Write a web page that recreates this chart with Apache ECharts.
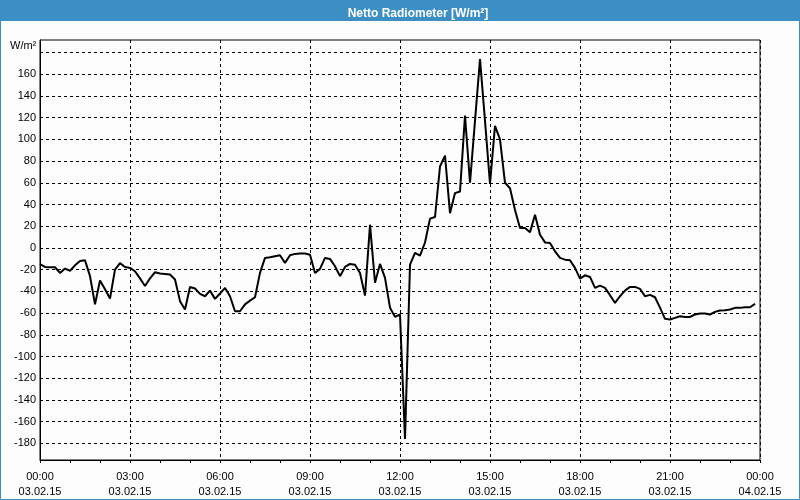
<!DOCTYPE html>
<html>
<head>
<meta charset="utf-8">
<script src="https://cdn.jsdelivr.net/npm/echarts@6/dist/echarts.min.js"></script>
<style>
html,body{margin:0;padding:0;background:#fcfdfc;}
#chart{width:800px;height:500px;}
</style>
</head>
<body>
<div id="chart"></div>
<script>
// ---- data ----
const chartTitle = 'Netto Radiometer [W/m²]';
const unitLabel = 'W/m²';
const stepHours = 1 / 6; // 10-minute samples starting 03.02.15 00:00
const values = [
  -15, -17.5, -17.8, -17.8, -23, -19, -21, -16, -12, -11.4,
  -26, -52, -30, -38, -46.6, -20, -14, -17.5, -18.4, -21.5,
  -28, -35, -28, -22.4, -23.6, -24, -24.5, -29, -49, -56.7,
  -36, -37.4, -42.3, -44.5, -39.3, -46.9, -42, -36.8, -44.5, -58.3,
  -58.3, -52, -48.5, -45.4, -23, -9.2, -8.6, -7.7, -6.8, -13.8,
  -6.8, -5.5, -5.2, -5.2, -6.2, -23, -19.3, -9.2, -10.1, -16.9,
  -26, -17.5, -14.7, -15.4, -23, -43.9, 21.4, -32, -14.7, -27.6,
  -55, -63.5, -61.3, -176, -15.4, -4.5, -7, 5, 27, 28.5,
  75, 85, 32, 50.5, 52, 122, 60, 117, 174, 117,
  59, 112.5, 100, 60, 55, 35, 18.4, 18.4, 14.5, 30.6,
  12.2, 5.1, 4.6, -3.1, -9.2, -10.8, -11.4, -18.4, -28.2, -25.2,
  -26.7, -36.8, -34.7, -36.8, -43.5, -50.6, -44.5, -39.3, -35.9, -35.9,
  -37.7, -44.5, -43.2, -45.4, -55, -65.3, -65.9, -64.4, -62.9, -63.5,
  -63.5, -61.3, -60.4, -60.4, -61.3, -58.9, -57.7, -57.4, -56.7, -55.2,
  -55.2, -54.6, -54.6, -51.5
];
const xTimeLabels = ['00:00','03:00','06:00','09:00','12:00','15:00','18:00','21:00','00:00'];
const xDateLabels = ['03.02.15','03.02.15','03.02.15','03.02.15','03.02.15','03.02.15','03.02.15','03.02.15','04.02.15'];
const yGridValues = [-180,-160,-140,-120,-100,-80,-60,-40,-20,0,20,40,60,80,100,120,140,160,180];
const yLabelValues = [-180,-160,-140,-120,-100,-80,-60,-40,-20,0,20,40,60,80,100,120,140,160];

const seriesData = values.map((v, i) => [i * stepHours, v]);

const chart = echarts.init(document.getElementById('chart'), null, {renderer: 'canvas'});
const FONT = 'Liberation Sans';
chart.setOption({
  animation: false,
  backgroundColor: '#fcfdfc',
  title: {
    text: chartTitle,
    left: 413,
    top: 3,
    textAlign: 'center',
    textStyle: {color: '#ffffff', fontSize: 12, fontWeight: 'bold', fontFamily: FONT}
  },
  graphic: [
    {type: 'rect', z: -1, shape: {x: 0, y: 0, width: 800, height: 21}, style: {fill: '#3c8fc4'}},
    {type: 'rect', z: -1, shape: {x: 0.5, y: 0.5, width: 799, height: 499}, style: {fill: null, stroke: '#3c8fc4', lineWidth: 1}},
    {type: 'text', left: 10, top: 40, style: {text: unitLabel, fill: '#000', font: '11px "Liberation Sans"'}}
  ],
  grid: {left: 40, right: 40, top: 40, bottom: 40, show: true, borderColor: '#000', borderWidth: 1, backgroundColor: '#fcfdfc'},
  xAxis: {
    type: 'value',
    min: 0,
    max: 24,
    interval: 3,
    axisLine: {show: true, onZero: false, lineStyle: {color: '#000', width: 1}},
    axisTick: {show: true, length: 3, lineStyle: {color: '#000'}},
    minorTick: {show: true, splitNumber: 3, length: 3, lineStyle: {color: '#000'}},
    splitLine: {show: true, lineStyle: {color: '#000', type: [3, 3], width: 1}},
    axisLabel: {
      color: '#000', fontSize: 11, fontFamily: FONT, lineHeight: 15, margin: 9,
      showMinLabel: true, showMaxLabel: true,
      formatter: function (v) {
        const k = Math.round(v / 3);
        return xTimeLabels[k] + '\n' + xDateLabels[k];
      }
    }
  },
  yAxis: {
    type: 'value',
    min: -195.3,
    max: 191.5,
    axisLine: {show: true, onZero: false, lineStyle: {color: '#000', width: 1}},
    axisTick: {show: false, customValues: yGridValues},
    splitLine: {show: true, lineStyle: {color: '#000', type: [3, 3], width: 1}},
    axisLabel: {
      color: '#000', fontSize: 11, fontFamily: FONT, margin: 4,
      customValues: yLabelValues,
      formatter: function (v) { return String(v); }
    }
  },
  series: [{
    type: 'line',
    data: seriesData,
    showSymbol: false,
    symbol: 'none',
    lineStyle: {color: '#000', width: 2},
    itemStyle: {color: '#000'}
  }]
});
</script>
</body>
</html>
